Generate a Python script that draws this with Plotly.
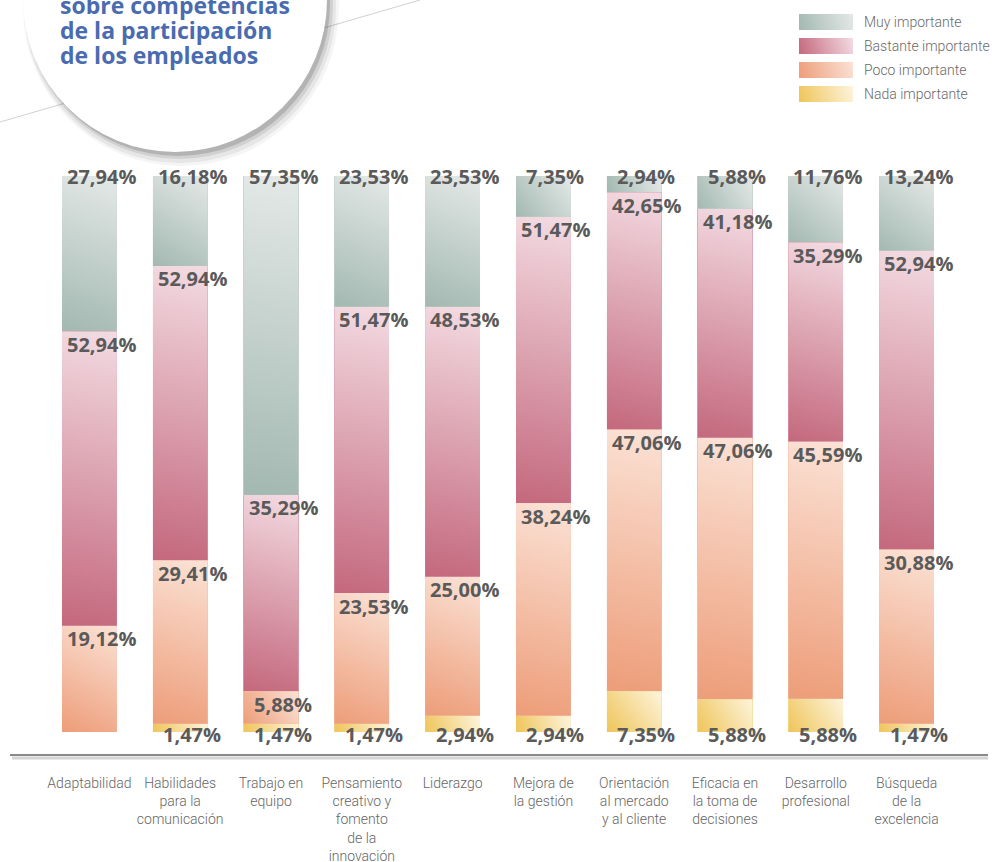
import base64
import plotly.graph_objects as go

# ---------------- data ----------------
categories = [
    "Adaptabilidad",
    "Habilidades<br>para la<br>comunicación",
    "Trabajo en<br>equipo",
    "Pensamiento<br>creativo y<br>fomento<br>de la<br>innovación",
    "Liderazgo",
    "Mejora de<br>la gestión",
    "Orientación<br>al mercado<br>y al cliente",
    "Eficacia en<br>la toma de<br>decisiones",
    "Desarrollo<br>profesional",
    "Búsqueda<br>de la<br>excelencia",
]
series_names = ["Muy importante", "Bastante importante", "Poco importante", "Nada importante"]
muy = [27.94, 16.18, 57.35, 23.53, 23.53, 7.35, 2.94, 5.88, 11.76, 13.24]
bastante = [52.94, 52.94, 35.29, 51.47, 48.53, 51.47, 42.65, 41.18, 35.29, 52.94]
poco = [19.12, 29.41, 5.88, 23.53, 25.00, 38.24, 47.06, 47.06, 45.59, 30.88]
nada = [0.00, 1.47, 1.47, 1.47, 2.94, 2.94, 7.35, 5.88, 5.88, 1.47]
title_lines = ["sobre competencias", "de la participación", "de los empleados"]

# ---------------- styling ----------------
W, H = 994, 862
ML, MR, MT, MB = 44, 42, 176, 130
PW, PH = W - ML - MR, H - MT - MB
BAR_W = 0.606
grad = {  # (dark, light, mid)
    "Muy importante": ("#a3b8b1", "#e4e9e7", "#c3d0cb"),
    "Bastante importante": ("#c4687d", "#f3dbe2", "#db9fae"),
    "Poco importante": ("#ed9d79", "#fbe2d6", "#f4bfa6"),
    "Nada importante": ("#efc55a", "#fdf4dc", "#f6dc9a"),
}
label_color = "#5a5a5a"
label_font = dict(family="Open Sans, Noto Sans, sans-serif", size=20, color=label_color, weight=700)


def px2x(p):
    return (p - ML) / PW


def py2y(p):
    return (H - MB - p) / PH


def grad_uri(dark, light, w, h):
    svg = (
        f'<svg xmlns="http://www.w3.org/2000/svg" width="{w:.2f}" height="{h:.2f}" '
        f'viewBox="0 0 {w:.2f} {h:.2f}" preserveAspectRatio="none">'
        f'<defs><linearGradient id="g" gradientUnits="userSpaceOnUse" x1="0" y1="{h:.2f}" x2="{w:.2f}" y2="0">'
        f'<stop offset="0" stop-color="{dark}"/><stop offset="1" stop-color="{light}"/>'
        f'</linearGradient></defs><rect x="0" y="0" width="{w:.2f}" height="{h:.2f}" fill="url(#g)"/></svg>'
    )
    return "data:image/svg+xml;base64," + base64.b64encode(svg.encode()).decode()


x_idx = list(range(len(categories)))
stack = [("Nada importante", nada), ("Poco importante", poco),
         ("Bastante importante", bastante), ("Muy importante", muy)]

fig = go.Figure()
for name, vals in stack:
    fig.add_trace(go.Bar(
        x=x_idx, y=vals, name=name, width=BAR_W,
        marker=dict(color=grad[name][2], line=dict(width=0)),
        showlegend=False,
        hovertemplate="%{y:.2f}%<extra>" + name + "</extra>",
    ))

images, annotations, shapes = [], [], []

# gradient overlays + value labels
for i in x_idx:
    total = sum(v[i] for _, v in stack)
    cum = 0.0
    for name, vals in stack:
        v = vals[i] / total * 100.0
        if vals[i] > 0:
            top = cum + v
            hpx = max(v * PH / 100.0, 1.0)
            wpx = BAR_W * PW / len(categories)
            images.append(dict(
                source=grad_uri(grad[name][0], grad[name][1], wpx, hpx),
                xref="x", yref="y", x=i - BAR_W / 2, y=top, sizex=BAR_W, sizey=v,
                xanchor="left", yanchor="top", sizing="stretch", layer="above",
            ))
            txt = f"{vals[i]:.2f}%".replace(".", ",")
            if name == "Muy importante":
                ay, ysh = 100, 0
            elif name == "Nada importante":
                ay, ysh = 0, -2
            else:
                ay, ysh = top, -13
            annotations.append(dict(
                x=i, y=ay, xref="x", yref="y", text=txt, showarrow=False,
                xanchor="center", yanchor="middle", xshift=12, yshift=ysh, font=label_font,
            ))
        cum += v

# legend (custom gradient swatches)
leg_tops = [14, 38, 62, 86]
for name, t in zip(series_names, leg_tops):
    images.append(dict(
        source=grad_uri(grad[name][0], grad[name][1], 54, 16),
        xref="paper", yref="paper", x=px2x(799), y=py2y(t), sizex=54 / PW, sizey=16 / PH,
        xanchor="left", yanchor="top", sizing="stretch", layer="above",
    ))
    annotations.append(dict(
        x=px2x(862), y=py2y(t + 8), xref="paper", yref="paper", text=name, showarrow=False,
        xanchor="left", yanchor="middle",
        font=dict(family="Roboto, sans-serif", size=14, color="#6a6a6a", weight=300),
    ))

# diagonal decorative line
shapes.append(dict(type="line", xref="paper", yref="paper",
                   x0=px2x(0), y0=py2y(122), x1=px2x(420), y1=py2y(0),
                   line=dict(color="#d0d0d0", width=1), layer="above"))
# circle shadow
for dx, dy, extra, op in [(6, 8, 6, 0.05), (5, 7, 4, 0.08), (4, 5, 2, 0.12), (3, 4, 0, 0.2)]:
    shapes.append(dict(type="circle", xref="paper", yref="paper",
                       x0=px2x(23 + dx - extra), x1=px2x(327 + dx + extra),
                       y0=py2y(-152 + dy - extra), y1=py2y(152 + dy + extra),
                       fillcolor=f"rgba(60,60,60,{op})", line=dict(width=0), layer="above"))
shapes.append(dict(type="circle", xref="paper", yref="paper",
                   x0=px2x(23), x1=px2x(327), y0=py2y(-152), y1=py2y(152),
                   fillcolor="white", line=dict(width=0), layer="above"))

# baseline with shadow
shapes.append(dict(type="line", xref="paper", yref="paper",
                   x0=px2x(12), x1=px2x(988), y0=py2y(758), y1=py2y(758),
                   line=dict(color="#d4d4d4", width=3), layer="above"))
shapes.append(dict(type="line", xref="paper", yref="paper",
                   x0=px2x(10), x1=px2x(988), y0=py2y(755), y1=py2y(755),
                   line=dict(color="#8a8a8a", width=2), layer="above"))

# title inside circle
for line_txt, yc in zip(title_lines, [5, 30, 55]):
    annotations.append(dict(
        x=px2x(58), y=py2y(yc), xref="paper", yref="paper", text=line_txt, showarrow=False,
        xanchor="left", yanchor="middle",
        font=dict(family="Open Sans, Noto Sans, sans-serif", size=23, color="#4a6bb0", weight=700),
    ))

fig.update_layout(
    width=W, height=H, barmode="stack", barnorm="percent",
    margin=dict(l=ML, r=MR, t=MT, b=MB, pad=0, autoexpand=False),
    paper_bgcolor="white", plot_bgcolor="white",
    showlegend=False,
    images=images, annotations=annotations, shapes=shapes,
    xaxis=dict(range=[-0.5, len(categories) - 0.5], tickmode="array", tickvals=x_idx,
               ticktext=categories, showgrid=False, zeroline=False, showline=False,
               ticks="", ticklabelstandoff=41, tickangle=0, automargin=False,
               tickfont=dict(family="Roboto, sans-serif", size=14, color="#666666", weight=300)),
    yaxis=dict(range=[0, 100], visible=False, showgrid=False, zeroline=False, automargin=False),
)

fig.write_html("out.html", config={"displayModeBar": False},
               post_script="document.body.style.margin='0';document.body.style.overflow='hidden';")
